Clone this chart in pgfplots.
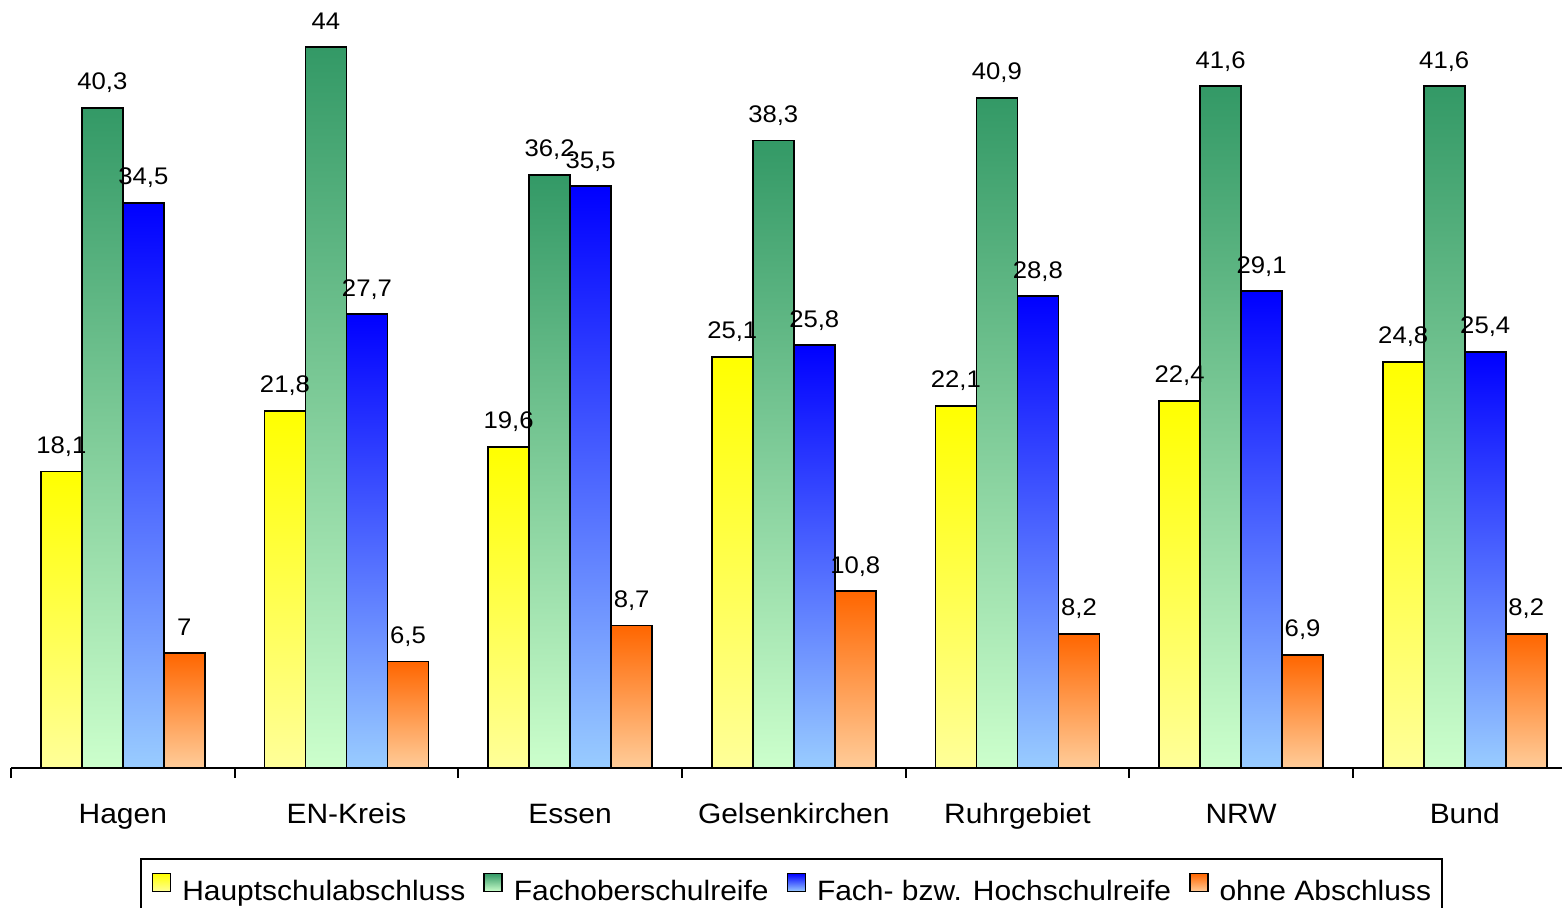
\documentclass[border=0pt]{standalone}
\usepackage{fontspec}
\setmainfont{Liberation Sans}[FakeStretch=1.07]
\usepackage{pgfplots}
\usepackage{pgfplotstable}
\pgfplotsset{compat=1.18}
\definecolor{ylT}{HTML}{FFFF00}
\definecolor{ylB}{HTML}{FFFF99}
\definecolor{grT}{HTML}{339966}
\definecolor{grB}{HTML}{CCFFCC}
\definecolor{blT}{HTML}{0000FF}
\definecolor{blB}{HTML}{99CCFF}
\definecolor{orT}{HTML}{FF6600}
\definecolor{orB}{HTML}{FFCC99}
\pgfplotstableread{
x h f a o
0 18.1 40.3 34.5 7
1 21.8 44   27.7 6.5
2 19.6 36.2 35.5 8.7
3 25.1 38.3 25.8 10.8
4 22.1 40.9 28.8 8.2
5 22.4 41.6 29.1 6.9
6 24.8 41.6 25.4 8.2
}\data
\pgfplotsset{
  sH/.style={draw=black, line width=0.9pt, top color=ylT, bottom color=ylB},
  sF/.style={draw=black, line width=0.9pt, top color=grT, bottom color=grB},
  sA/.style={draw=black, line width=0.9pt, top color=blT, bottom color=blB},
  sO/.style={draw=black, line width=0.9pt, top color=orT, bottom color=orB},
}
\begin{document}
\begin{tikzpicture}
\begin{axis}[
  scale only axis, width=775.5pt, height=384pt,
  xmin=-0.5, xmax=6.435, ymin=0, ymax=46.87,
  ybar=0pt, bar width=20.5pt,
  axis x line=bottom, axis y line=none,
  x axis line style={-, line width=0.9pt},
  xtick={0,...,6},
  xticklabels={Hagen,EN-Kreis,Essen,Gelsenkirchen,Ruhrgebiet,NRW,Bund},
  major tick length=0pt,
  major x tick style={draw=none},
  minor xtick={-0.5,0.5,...,5.5},
  minor tick length=5pt, tick align=outside,
  minor x tick style={line width=0.9pt, black},
  xticklabel style={font=\fontsize{14}{17}\selectfont, anchor=base, yshift=-27.5pt},
  nodes near coords,
  nodes near coords style={font=\fontsize{12}{14}\selectfont, anchor=base, yshift=9pt, black},
  /pgf/number format/use comma,
  /pgf/number format/assume math mode=true,
  legend columns=4,
  legend cell align=left,
  legend image code/.code={\draw[#1, line width=0.7pt] (0pt,0pt) rectangle (9pt,9pt);},
  legend style={at={(0.5032,-0.1172)}, anchor=north, draw=black, line width=0.9pt,
    font=\fontsize{14}{17}\selectfont, inner xsep=5.5pt, inner ysep=7pt,
    nodes={inner sep=0pt},
    /tikz/every odd column/.append style={column sep=5.5pt},
    /tikz/every even column/.append style={column sep=9pt}},
]
\addlegendimage{sH}
\addlegendimage{sF}
\addlegendimage{sA}
\addlegendimage{sO}
\pgfplotsinvokeforeach{0,...,6}{\addplot[sH, bar shift=-30.75pt, forget plot, x filter/.expression={x==#1 ? x : nan}] table[x=x, y=h] {\data};}
\pgfplotsinvokeforeach{0,...,6}{\addplot[sF, bar shift=-10.25pt, forget plot, x filter/.expression={x==#1 ? x : nan}] table[x=x, y=f] {\data};}
\pgfplotsinvokeforeach{0,...,6}{\addplot[sA, bar shift=10.25pt, forget plot, x filter/.expression={x==#1 ? x : nan}] table[x=x, y=a] {\data};}
\pgfplotsinvokeforeach{0,...,6}{\addplot[sO, bar shift=30.75pt, forget plot, x filter/.expression={x==#1 ? x : nan}] table[x=x, y=o] {\data};}
\legend{Hauptschulabschluss, Fachoberschulreife, Fach- bzw. Hochschulreife, ohne Abschluss}
\end{axis}
\pgfresetboundingbox
\path ([xshift=-5.5pt]current axis.north west) rectangle ([yshift=-69.5pt]current axis.south east);
\end{tikzpicture}
\end{document}
